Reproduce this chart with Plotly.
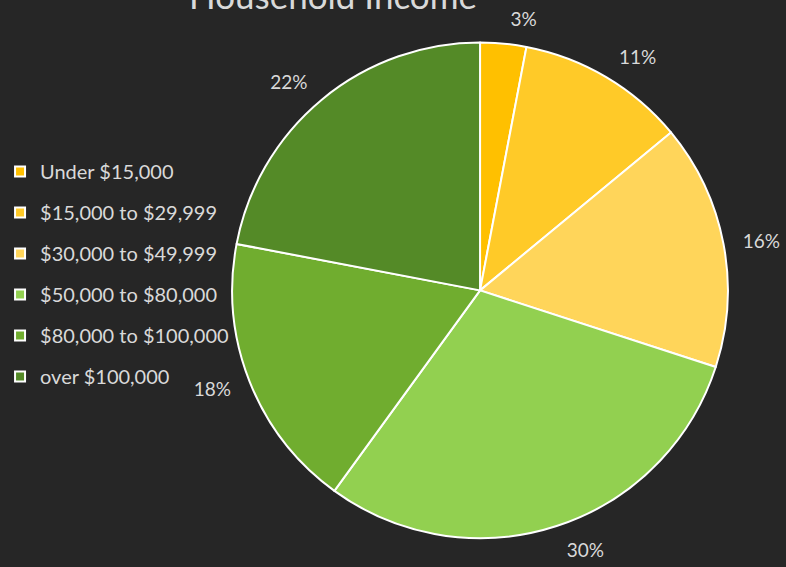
import plotly.graph_objects as go

labels = ['Under $15,000', '$15,000 to $29,999', '$30,000 to $49,999',
          '$50,000 to $80,000', '$80,000 to $100,000', 'over $100,000']
shares = [3, 11, 16, 30, 18, 22]
colors = ['#FFC000', '#FFCA28', '#FFD55A', '#92D050', '#70AD2F', '#548A27']

BG = '#262626'
TXT = '#D9D9D9'
FONT = 'Lato, Open Sans, sans-serif'

W, H = 786, 567
cx, cy, r = 481, 294, 252
label_r = r + 14   # percent labels sit a little off the rim


def dom(rad):
    return dict(x=[(cx - rad) / W, (cx + rad) / W],
                y=[(H - cy - rad) / H, (H - cy + rad) / H])


fig = go.Figure()

# the coloured pie
fig.add_trace(go.Pie(
    labels=labels, values=shares,
    sort=False, direction='clockwise', rotation=0,
    marker=dict(colors=colors, line=dict(color='white', width=2)),
    textinfo='none', showlegend=False, domain=dom(r),
))

# transparent copy, slightly larger, only carries the outside percent labels
fig.add_trace(go.Pie(
    labels=labels, values=shares,
    sort=False, direction='clockwise', rotation=0,
    marker=dict(colors=['rgba(0,0,0,0)'] * len(shares), line=dict(width=0)),
    textinfo='percent', textposition='outside',
    textfont=dict(color=TXT, size=19, family=FONT),
    hoverinfo='skip', showlegend=False, domain=dom(label_r),
))

# legend entries, one group each so the gap can be widened
for lab, col in zip(labels, colors):
    fig.add_trace(go.Scatter(
        x=[None], y=[None], mode='markers', name=lab, legendgroup=lab,
        marker=dict(symbol='square', size=10, color=col, line=dict(color='white', width=2)),
    ))

fig.update_layout(
    width=W, height=H,
    paper_bgcolor=BG, plot_bgcolor=BG,
    font=dict(family=FONT, color=TXT, size=19),
    margin=dict(l=0, r=0, t=0, b=0),
    xaxis=dict(visible=False), yaxis=dict(visible=False),
    legend=dict(x=-0.009, xanchor='left', y=1 - 154 / H, yanchor='top',
                bgcolor='rgba(0,0,0,0)', tracegroupgap=12,
                font=dict(size=20, color=TXT, family=FONT)),
)

# title runs off the top edge in the original, so place it as an annotation
fig.add_annotation(text='Household Income', xref='paper', yref='paper',
                   x=331 / W, y=1 + 5 / H, xanchor='center', yanchor='middle',
                   showarrow=False, font=dict(size=35, color=TXT, family=FONT))

# drop the default page margin so the chart fills the window
fig.write_html('out.html', config={'displayModeBar': False},
               post_script="document.body.style.margin='0';")
